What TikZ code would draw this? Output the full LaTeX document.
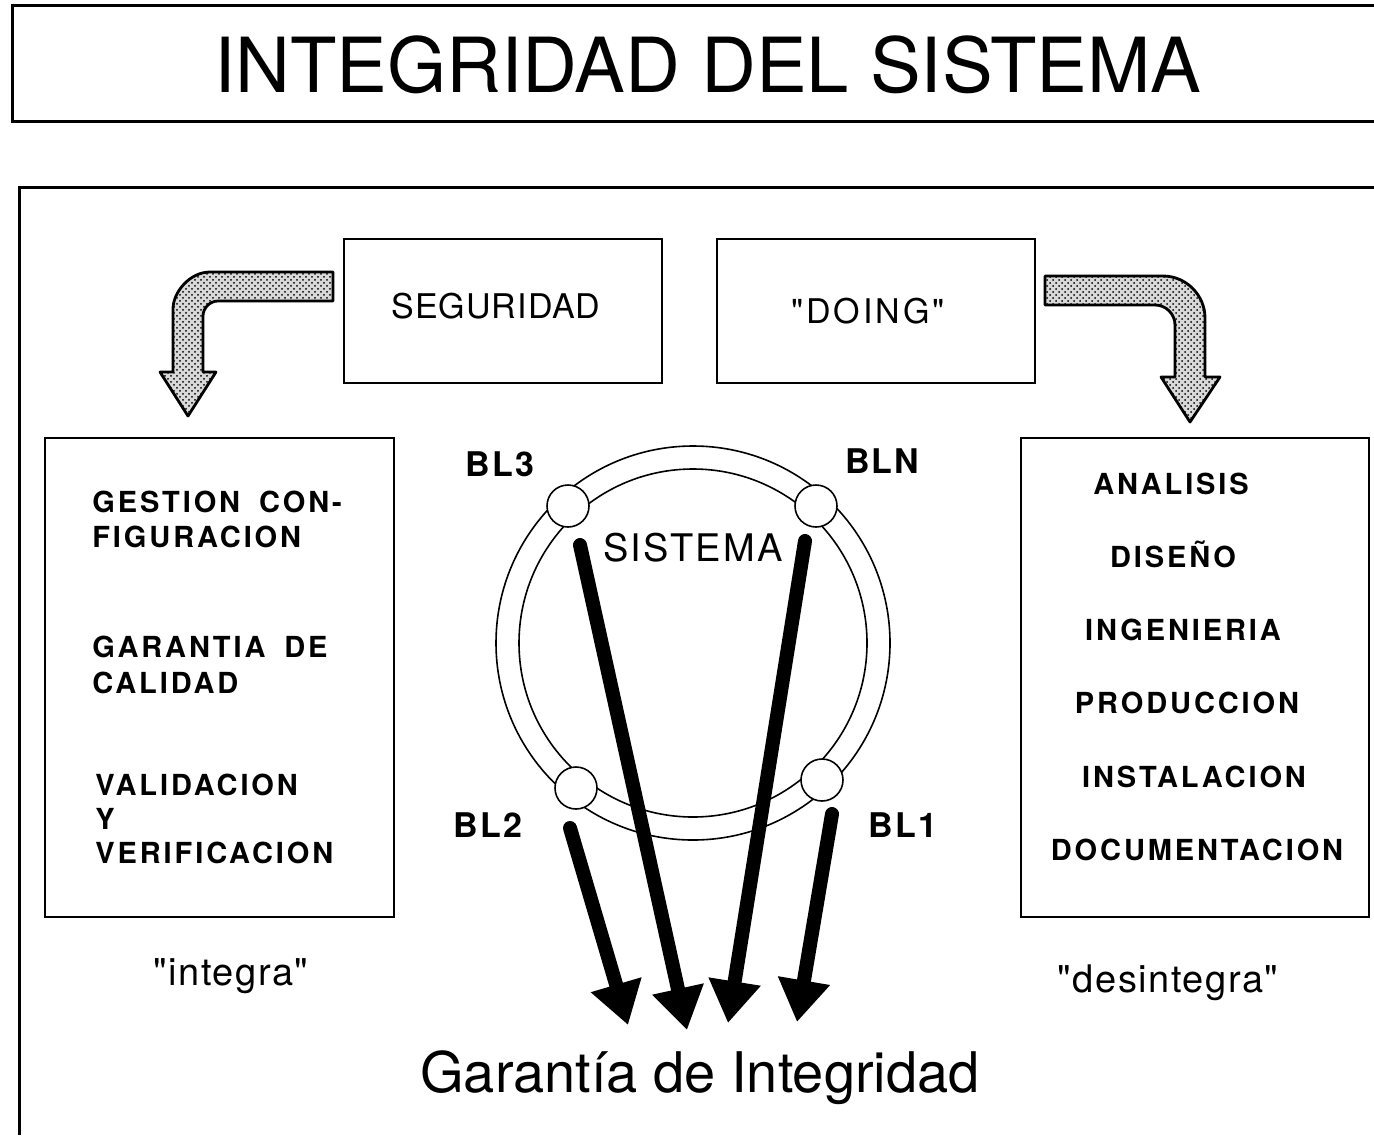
\documentclass[tikz,border=0pt]{standalone}
\usepackage{fontspec}
\setmainfont{TeX Gyre Heros}[Ligatures=TeXOff]
\usetikzlibrary{arrows.meta,patterns}
\begin{document}
\begin{tikzpicture}[x=0.5pt,y=-0.5pt,
  frame/.style={line width=1.5pt},
  box/.style={draw, line width=1pt, inner sep=0pt, anchor=north west},
  bigarrow/.style={draw, line width=1.4pt, preaction={fill=gray!30}, pattern=crosshatch dots, line join=round},
  ring/.style={line width=0.8pt},
  blnode/.style={circle, draw, line width=0.8pt, fill=white, minimum size=21pt, inner sep=0pt},
  thickarrow/.style={line width=7pt, line cap=round, -{Triangle[width=25pt,length=21pt]}},
  boxtxt/.style={font=\fontsize{14.5}{17}\selectfont\bfseries\addfontfeature{LetterSpace=10}, inner sep=0pt},
  bltxt/.style={font=\fontsize{17}{20}\selectfont\bfseries\addfontfeature{LetterSpace=6}, inner sep=0pt, anchor=base},
  toptxt/.style={font=\fontsize{17}{20}\selectfont\addfontfeature{LetterSpace=3}, inner sep=0pt, anchor=base},
  quotetxt/.style={font=\fontsize{19}{22}\selectfont\addfontfeature{LetterSpace=4}, inner sep=0pt, anchor=base}
]
\useasboundingbox (0,0) rectangle (1374,1135);
\fill[white] (0,0) rectangle (1374,1135);

% title frame
\draw[frame] (1374,5) -- (12,5) -- (12,121) -- (1374,121);
\node[font=\fontsize{38}{40}\selectfont, inner sep=0pt, anchor=base] (title) at (708,92) {INTEGRIDAD DEL SISTEMA};

% main frame
\draw[frame] (1374,187) -- (19,187) -- (19,1135);

% top boxes
\node[box, minimum width=159pt, minimum height=72pt] (seg) at (343,238) {};
\node[box, minimum width=159pt, minimum height=72pt] (doing) at (716,238) {};
\node[toptxt] (segt) at (496,318) {SEGURIDAD};
\node[toptxt, font=\fontsize{17}{20}\selectfont\addfontfeature{LetterSpace=9}] (doingt) at (868,323) {"DOING"};

% hatched bent arrows
\path[bigarrow] (333,272) -- (210,272) .. controls (190,272) and (173,292) .. (173,309)
  -- (173,372) -- (160,372) -- (188,416) -- (216,372) -- (203,372)
  -- (203,316) .. controls (203,308) and (210,301) .. (218,301) -- (333,301) -- cycle;
\path[bigarrow] (1045,276) -- (1163,276) .. controls (1186,276) and (1205,295) .. (1205,318)
  -- (1205,377) -- (1220,377) -- (1190,422) -- (1161,377) -- (1175,377)
  -- (1175,325) .. controls (1175,314) and (1166,305) .. (1155,305) -- (1045,305) -- cycle;

% side boxes
\node[box, minimum width=174.5pt, minimum height=239.5pt] (left) at (44,437) {};
\node[box, minimum width=174pt, minimum height=239.5pt] (right) at (1020,437) {};

\node[boxtxt, anchor=base west] (l1) at (92,512) {GESTION\hspace{4pt} CON-};
\node[boxtxt, anchor=base west] (l2) at (92,547) {FIGURACION};
\node[boxtxt, anchor=base west] (l3) at (92,657) {GARANTIA\hspace{4pt} DE};
\node[boxtxt, anchor=base west] (l4) at (92,693) {CALIDAD};
\node[boxtxt, anchor=base west] (l5) at (95,795) {VALIDACION};
\node[boxtxt, anchor=base west] (l6) at (95,829) {Y};
\node[boxtxt, anchor=base west] (l7) at (95,863) {VERIFICACION};

\node[boxtxt, anchor=base] (r1) at (1171,494) {ANALISIS};
\node[boxtxt, anchor=base] (r2) at (1173,567) {DISEÑO};
\node[boxtxt, anchor=base] (r3) at (1183,640) {INGENIERIA};
\node[boxtxt, anchor=base] (r4) at (1187,713) {PRODUCCION};
\node[boxtxt, anchor=base] (r5) at (1194,787) {INSTALACION};
\node[boxtxt, anchor=base] (r6) at (1197,860) {DOCUMENTACION};

% ring
\coordinate (c) at (693,643);
\draw[ring] (c) circle[radius=98.5pt];
\draw[ring] (c) circle[radius=87pt];
\node[blnode] (bl3c) at (568,506) {};
\node[blnode] (blnc) at (816,506) {};
\node[blnode] (bl2c) at (576,788) {};
\node[blnode] (bl1c) at (822,780) {};

\node[bltxt] (bl3) at (500,476) {BL3};
\node[bltxt] (bln) at (882,473) {BLN};
\node[bltxt] (bl2) at (488,837) {BL2};
\node[bltxt] (bl1) at (903,837) {BL1};
\node[font=\fontsize{19}{21}\selectfont\addfontfeature{LetterSpace=6}, inner sep=0pt, anchor=base] (sis) at (693,561) {SISTEMA};

% thick arrows
\coordinate (s1) at (580,545);
\coordinate (s2) at (805,541);
\coordinate (s3) at (570,828);
\coordinate (s4) at (832,814);
\coordinate (e1) at (687,1030);
\coordinate (e2) at (728,1023);
\coordinate (e3) at (628,1025);
\coordinate (e4) at (797,1022);
\draw[thickarrow] (s1) -- (e1);
\draw[thickarrow] (s2) -- (e2);
\draw[thickarrow] (s3) -- (e3);
\draw[thickarrow] (s4) -- (e4);

% bottom labels
\node[quotetxt] (integra) at (231,985) {"integra"};
\node[quotetxt] (desintegra) at (1168,992) {"desintegra"};
\node[font=\fontsize{28}{30}\selectfont, inner sep=0pt, anchor=base] (gar) at (700,1092) {Garantía de Integridad};
\end{tikzpicture}
\end{document}
